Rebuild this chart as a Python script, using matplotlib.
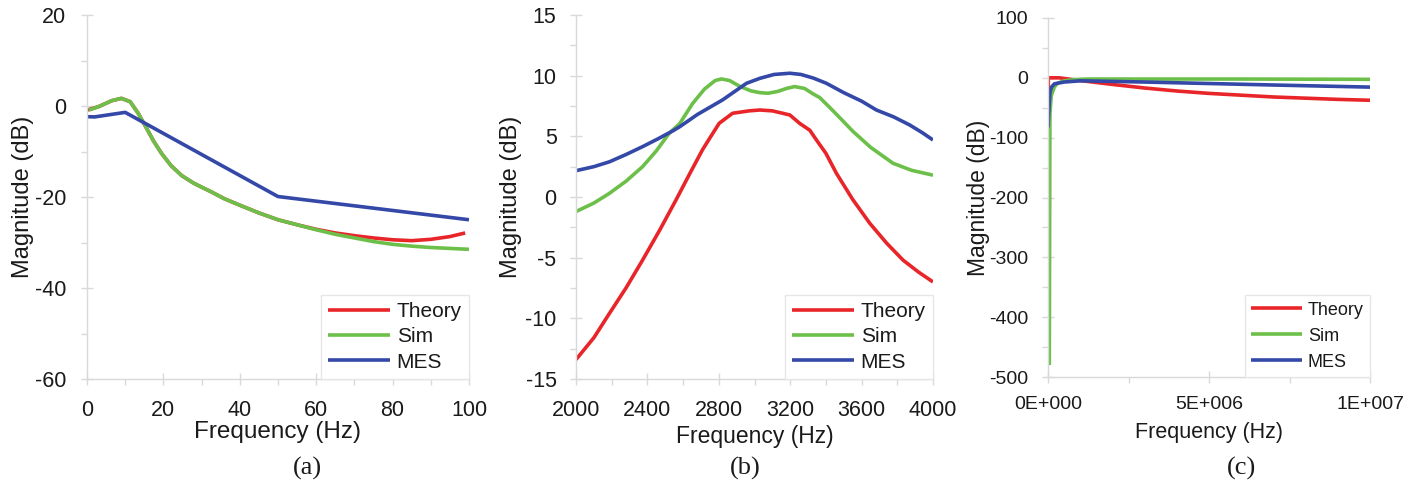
import matplotlib
matplotlib.use("Agg")
import matplotlib.pyplot as plt
from matplotlib.ticker import MultipleLocator, FixedLocator, FixedFormatter

plt.rcParams['font.family'] = ['Liberation Sans', 'DejaVu Sans']
plt.rcParams['axes.unicode_minus'] = False
plt.rcParams['lines.solid_joinstyle'] = 'round'
plt.rcParams['lines.solid_capstyle'] = 'butt'

# ---------------- data ----------------
# (a)
a_sim_f = [0.5, 3, 6.5, 9, 11.3, 13.4, 15.6, 17.5, 19.5, 22, 24.8, 28, 32.6, 36, 40,
           45, 50, 55, 60, 65, 70, 75, 80, 85, 90, 95, 100]
a_sim_db = [-0.9, -0.15, 1.17, 1.68, 0.95, -1.6, -4.9, -7.8, -10.4, -13.1, -15.3,
            -17.0, -18.9, -20.4, -21.8, -23.5, -25.0, -26.1, -27.2, -28.2, -29.0,
            -29.8, -30.4, -30.8, -31.1, -31.3, -31.5]
a_theory_f = [0, 3, 6.5, 9, 11.3, 13.4, 15.6, 17.5, 19.5, 22, 24.8, 28, 32.6, 36, 40,
              45, 50, 55, 60, 65, 70, 75, 80, 85, 90, 95, 99]
a_theory_db = [-0.9, -0.15, 1.17, 1.68, 0.95, -1.6, -4.9, -7.8, -10.4, -13.1, -15.3,
               -17.0, -18.9, -20.4, -21.8, -23.5, -25.0, -26.1, -27.1, -27.9, -28.5,
               -29.0, -29.4, -29.6, -29.3, -28.7, -27.9]
a_mes_f = [0, 2, 10, 50, 100]
a_mes_db = [-2.35, -2.4, -1.4, -19.9, -25.0]

# (b)
b_theory_f = [2000, 2100, 2187, 2280, 2373, 2470, 2560, 2640, 2709, 2760, 2802, 2877,
              2970, 3030, 3100, 3198, 3253, 3310, 3347, 3400, 3459, 3550, 3646, 3740,
              3832, 3920, 4000]
b_theory_db = [-13.4, -11.6, -9.6, -7.5, -5.2, -2.7, -0.25, 2.0, 3.9, 5.1, 6.07, 6.9,
               7.1, 7.17, 7.1, 6.76, 6.07, 5.5, 4.7, 3.6, 1.95, -0.2, -2.17, -3.8,
               -5.2, -6.2, -7.0]
b_sim_f = [2000, 2100, 2187, 2280, 2373, 2450, 2522, 2582, 2653, 2720, 2780, 2815,
           2860, 2920, 2980, 3030, 3076, 3130, 3180, 3225, 3280, 3328, 3365, 3420,
           3480, 3552, 3650, 3776, 3880, 4000]
b_sim_db = [-1.2, -0.5, 0.3, 1.3, 2.5, 3.8, 5.25, 6.07, 7.7, 8.9, 9.6, 9.73, 9.6, 9.1,
            8.75, 8.6, 8.55, 8.7, 8.95, 9.1, 8.95, 8.5, 8.2, 7.4, 6.5, 5.4, 4.1, 2.78,
            2.2, 1.8]
b_mes_f = [2000, 2100, 2187, 2280, 2373, 2460, 2541, 2582, 2680, 2821, 2955, 3030,
           3110, 3198, 3260, 3330, 3403, 3500, 3600, 3683, 3780, 3869, 3940, 4000]
b_mes_db = [2.17, 2.5, 2.9, 3.5, 4.15, 4.8, 5.44, 5.8, 6.8, 8.0, 9.37, 9.78, 10.1,
            10.2, 10.1, 9.8, 9.37, 8.6, 7.9, 7.17, 6.6, 5.94, 5.3, 4.7]

# (c)
c_theory_f = [0, 1e4, 3.5e5, 1e6, 2e6, 3e6, 4e6, 5e6, 6e6, 7e6, 8e6, 9e6, 1e7]
c_theory_db = [-87, 0, 0, -4.5, -11, -17, -22, -26, -29, -32, -34, -36, -37.5]
c_sim_f = [4e4, 6e4, 1e5, 2e5, 3e5, 5e5, 8e5, 1.2e6, 3e6, 6e6, 1e7]
c_sim_db = [-480, -60, -30, -15, -9, -5, -3, -2, -2, -2, -2.5]
c_mes_f = [0, 3e4, 6e4, 1e5, 2e5, 5e5, 1e6, 3e6, 5e6, 7e6, 1e7]
c_mes_db = [-83, -50, -25, -16, -10, -7, -5, -7, -9.5, -12, -15.5]
c_xticks = [0, 5e6, 1e7]
c_xticklabels = ["0E+000", "5E+006", "1E+007"]

labels = ["Theory", "Sim", "MES"]
colors = ["#e8262a", "#6cc04a", "#3448a8"]
grey = "#d9d9d9"
txt = "#1a1a1a"

fig = plt.figure(figsize=(14.22, 4.87), dpi=100)
W, H = 1422, 487


def make_ax(l, r, t, b):
    return fig.add_axes([l / W, 1 - b / H, (r - l) / W, (b - t) / H])


def style(ax, tick_fs, pad_x, pad_y):
    for s in ["top", "right"]:
        ax.spines[s].set_visible(False)
    for s in ["left", "bottom"]:
        ax.spines[s].set_color(grey)
        ax.spines[s].set_linewidth(1.0)
    ax.tick_params(which="major", direction="inout", length=8, width=1, color=grey,
                   labelsize=tick_fs, labelcolor=txt)
    ax.tick_params(which="minor", direction="out", length=4, width=1, color=grey)
    ax.tick_params(axis="x", which="major", pad=pad_x)
    ax.tick_params(axis="y", which="major", pad=pad_y)


def legend(ax, fs, spacing, hl):
    leg = ax.legend(loc="lower right", bbox_to_anchor=(1.0, 0.0), borderaxespad=0,
                    fontsize=fs, handlelength=hl, labelspacing=spacing,
                    borderpad=0.35, handletextpad=0.3, fancybox=False,
                    framealpha=1, edgecolor="#e6e6e6")
    leg.get_frame().set_linewidth(1.0)
    for t in leg.get_texts():
        t.set_color(txt)


lw = 2.6

# ---------- (a) ----------
ax = make_ax(87, 469, 15, 379)
ax.plot(a_theory_f, a_theory_db, color=colors[0], lw=lw, label=labels[0])
ax.plot(a_sim_f, a_sim_db, color=colors[1], lw=lw, label=labels[1])
ax.plot(a_mes_f, a_mes_db, color=colors[2], lw=lw, label=labels[2])
ax.set_xlim(0, 100)
ax.set_ylim(-60, 20)
ax.xaxis.set_major_locator(MultipleLocator(20))
ax.xaxis.set_minor_locator(MultipleLocator(10))
ax.yaxis.set_major_locator(MultipleLocator(20))
ax.yaxis.set_minor_locator(MultipleLocator(10))
style(ax, 15.5, 11, 11)
ax.set_xlabel("Frequency (Hz)", fontsize=17.5, color=txt)
ax.set_ylabel("Magnitude (dB)", fontsize=17, color=txt)
ax.xaxis.set_label_coords(0.5, -0.115)
ax.yaxis.set_label_coords(-0.14, 0.5)
legend(ax, 15, 0.3, 3.0)

# ---------- (b) ----------
ax = make_ax(576, 933, 15, 379)
ax.plot(b_theory_f, b_theory_db, color=colors[0], lw=lw, label=labels[0])
ax.plot(b_sim_f, b_sim_db, color=colors[1], lw=lw, label=labels[1])
ax.plot(b_mes_f, b_mes_db, color=colors[2], lw=lw, label=labels[2])
ax.set_xlim(2000, 4000)
ax.set_ylim(-15, 15)
ax.xaxis.set_major_locator(MultipleLocator(400))
ax.xaxis.set_minor_locator(MultipleLocator(200))
ax.yaxis.set_major_locator(MultipleLocator(5))
ax.yaxis.set_minor_locator(MultipleLocator(2.5))
style(ax, 15.5, 11, 10)
ax.set_xlabel("Frequency (Hz)", fontsize=16.5, color=txt)
ax.set_ylabel("Magnitude (dB)", fontsize=17, color=txt)
ax.xaxis.set_label_coords(0.5, -0.125)
ax.yaxis.set_label_coords(-0.15, 0.5)
legend(ax, 15, 0.3, 3.0)

# ---------- (c) ----------
ax = make_ax(1048, 1370, 18, 377)
ax.plot(c_theory_f, c_theory_db, color=colors[0], lw=lw, label=labels[0])
ax.plot(c_sim_f, c_sim_db, color=colors[1], lw=lw, label=labels[1])
ax.plot(c_mes_f, c_mes_db, color=colors[2], lw=lw, label=labels[2])
ax.set_xlim(0, 1e7)
ax.set_ylim(-500, 100)
ax.xaxis.set_major_locator(FixedLocator(c_xticks))
ax.xaxis.set_major_formatter(FixedFormatter(c_xticklabels))
ax.xaxis.set_minor_locator(MultipleLocator(2.5e6))
ax.yaxis.set_major_locator(MultipleLocator(100))
ax.yaxis.set_minor_locator(MultipleLocator(50))
style(ax, 14, 10, 10)
ax.set_xlabel("Frequency (Hz)", fontsize=15.5, color=txt)
ax.set_ylabel("Magnitude (dB)", fontsize=16.5, color=txt)
ax.xaxis.set_label_coords(0.5, -0.125)
ax.yaxis.set_label_coords(-0.18, 0.5)
legend(ax, 13, 0.5, 2.85)

# captions
for x, s in [(307, "(a)"), (745, "(b)"), (1242, "(c)")]:
    fig.text(x / W, 1 - 468 / H, s, ha="center", va="center", fontsize=19,
             family=["Liberation Serif", "DejaVu Serif"], color=txt)

fig.savefig("out.png", dpi=100, facecolor="white")
